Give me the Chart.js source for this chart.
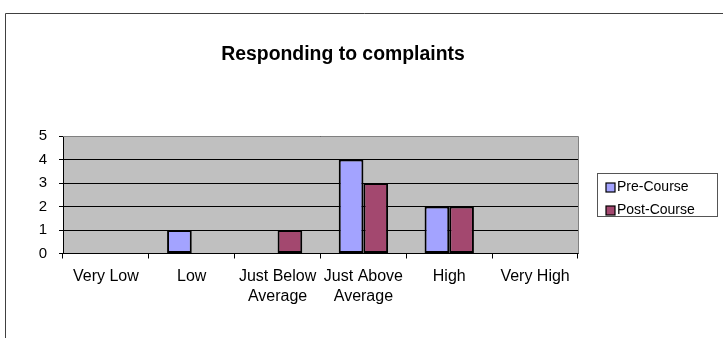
<!DOCTYPE html>
<html>
<head>
<meta charset="utf-8">
<script src="https://cdn.jsdelivr.net/npm/chart.js@4/dist/chart.umd.min.js"></script>
<style>
  html, body { margin: 0; padding: 0; background: #fff; }
  #wrap { width: 723px; height: 338px; position: relative; }
</style>
</head>
<body>
<div id="wrap"><canvas id="complaints-chart" width="723" height="338"></canvas></div>
<script>
// rating categories and the two survey rounds
const ratingLabels = ["Very Low", "Low", ["Just Below", "Average"], ["Just Above", "Average"], "High", "Very High"];
const preCourse = [0, 1, 0, 4, 2, 0];
const postCourse = [0, 0, 1, 3, 2, 0];
const yTicks = [0, 1, 2, 3, 4, 5];
const chartTitle = 'Responding to complaints';

const fontFamily = '"Liberation Sans", Arial, sans-serif';

// grey plot background, plot frame, title and the outer chart border
const plotFrame = {
    id: 'plotFrame',
    beforeDraw(chart) {
        const { ctx, chartArea: a } = chart;
        ctx.save();
        ctx.fillStyle = '#c0c0c0';
        ctx.fillRect(a.left, a.top, a.right - a.left, a.bottom - a.top);
        ctx.restore();
    },
    afterDraw(chart) {
        const { ctx, chartArea: a } = chart;
        ctx.save();
        ctx.strokeStyle = '#808080';
        ctx.lineWidth = 1;
        ctx.beginPath();
        ctx.moveTo(a.left, a.top + 0.5);
        ctx.lineTo(Math.round(a.right) + 0.5, a.top + 0.5);
        ctx.lineTo(Math.round(a.right) + 0.5, a.bottom);
        ctx.stroke();

        ctx.strokeStyle = '#404040';
        ctx.beginPath();
        ctx.moveTo(723, 13.5);
        ctx.lineTo(5.5, 13.5);
        ctx.lineTo(5.5, 338);
        ctx.stroke();

        ctx.fillStyle = '#000';
        ctx.font = 'bold 19.4px ' + fontFamily;
        ctx.textAlign = 'center';
        ctx.textBaseline = 'middle';
        ctx.fillText(chartTitle, 343, 55);
        ctx.restore();
    }
};

// boxed legend on the right
const sideLegend = {
    id: 'sideLegend',
    afterDraw(chart) {
        const { ctx } = chart;
        const x = 597, y = 173, w = 120, h = 43;
        ctx.save();
        ctx.fillStyle = '#fff';
        ctx.fillRect(x, y, w, h);
        ctx.strokeStyle = '#555';
        ctx.lineWidth = 1;
        ctx.strokeRect(x + 0.5, y + 0.5, w, h);
        ctx.font = '14px ' + fontFamily;
        ctx.textBaseline = 'middle';
        chart.data.datasets.forEach((ds, i) => {
            const cy = 187 + i * 23;
            ctx.fillStyle = ds.backgroundColor;
            ctx.fillRect(606, cy - 4, 9, 9);
            ctx.strokeStyle = '#000';
            ctx.lineWidth = 1.2;
            ctx.strokeRect(606, cy - 4, 9, 9);
            ctx.fillStyle = '#000';
            ctx.fillText(ds.label, 617, cy);
        });
        ctx.restore();
    }
};

const complaintsChart = new Chart(document.getElementById('complaints-chart'), {
    type: 'bar',
    data: {
        labels: ratingLabels,
        datasets: [{
            label: 'Pre-Course',
            data: preCourse,
            backgroundColor: '#a3a3ff',
            borderColor: '#000',
            borderWidth: 2,
            borderSkipped: false,
            categoryPercentage: 0.575,
            barPercentage: 1
        }, {
            label: 'Post-Course',
            data: postCourse,
            backgroundColor: '#a3486f',
            borderColor: '#000',
            borderWidth: 2,
            borderSkipped: false,
            categoryPercentage: 0.575,
            barPercentage: 1
        }]
    },
    options: {
        responsive: false,
        animation: false,
        layout: { padding: { left: 0, right: 145, top: 136, bottom: 0 } },
        plugins: {
            legend: { display: false },
            tooltip: { enabled: false },
            title: { display: false }
        },
        scales: {
            x: {
                grid: { display: true, drawOnChartArea: false, drawTicks: true, tickLength: 5, color: '#000', offset: true },
                border: { color: '#000', width: 1 },
                ticks: { color: '#000', padding: 8, maxRotation: 0, autoSkip: false,
                         font: { family: fontFamily, size: 16, lineHeight: 1.25 } },
                afterFit(scale) { scale.height = 84.5; }
            },
            y: {
                min: 0,
                max: 5,
                afterBuildTicks(scale) { scale.ticks = yTicks.map(v => ({ value: v })); },
                grid: { color: '#000', tickColor: '#000', tickLength: 4, drawTicks: true },
                border: { color: '#000', width: 1 },
                ticks: { color: '#000', padding: 12, font: { family: fontFamily, size: 15 } },
                afterFit(scale) { scale.width = 63; }
            }
        }
    },
    plugins: [plotFrame, sideLegend]
});
</script>
</body>
</html>
